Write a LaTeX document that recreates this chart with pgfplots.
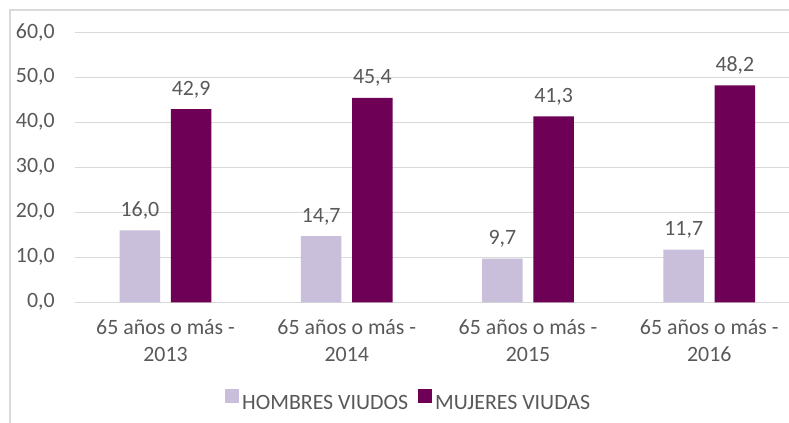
\documentclass[border=0pt]{standalone}
\usepackage{pgfplots}
\pgfplotsset{compat=1.18}
\usepackage{fontspec}
\setmainfont{Carlito}
\definecolor{lightp}{RGB}{201,191,218}
\definecolor{darkp}{RGB}{110,0,86}
\definecolor{txt}{RGB}{89,89,89}
\definecolor{gridc}{RGB}{217,217,217}
\begin{document}
\begin{tikzpicture}
\useasboundingbox (0,0) rectangle (591.75pt,316.5pt);
\clip (0,0) rectangle (591.75pt,316.5pt);
\fill[white] (0,0) rectangle (591.75pt,316.5pt);
\draw[gridc, line width=1pt] (7.5pt,-5pt) -- (7.5pt,309pt) -- (600pt,309pt);
\begin{axis}[
  at={(56.2pt,89.8pt)}, anchor=south west,
  scale only axis, width=543.75pt, height=202.5pt,
  xmin=-0.5, xmax=3.5, ymin=0, ymax=60,
  ytick={0,10,...,60},
  xtick={0,1,2,3},
  xticklabels={{65 años o más -\\2013},{65 años o más -\\2014},{65 años o más -\\2015},{65 años o más -\\2016}},
  axis line style={draw=none},
  major tick length=0pt,
  ymajorgrids, grid style={gridc, line width=1pt},
  font=\fontsize{16.4pt}{20.25pt}\selectfont,
  tick label style={text=txt},
  /pgf/number format/fixed,
  /pgf/number format/fixed zerofill,
  /pgf/number format/precision=1,
  /pgf/number format/use comma,
  /pgf/number format/assume math mode=true,
  yticklabel style={anchor=east, inner sep=0pt, xshift=-15pt},
  xticklabel style={align=center, anchor=north, inner sep=0pt, yshift=-13pt},
  ybar, bar width=30.4pt,
  nodes near coords,
  every node near coord/.append style={text=txt, anchor=base, inner sep=0pt, yshift=10.5pt},
  legend columns=2,
  legend style={at={(0.459,-0.362)}, anchor=center, draw=none, fill=none, text=txt, inner sep=0pt,
    /tikz/every even column/.append style={column sep=7.5pt},
    /tikz/every odd column/.append style={column sep=2.2pt},
    nodes={inner sep=0pt, text=txt}},
  legend cell align=left,
]
\addplot[fill=lightp, draw=none, bar shift=-19.2pt,
  legend image code/.code={\fill[lightp] (0pt,0pt) rectangle (10.5pt,10.5pt);}]
  coordinates {(0,16.0) (1,14.7) (2,9.7) (3,11.7)};
\addplot[fill=darkp, draw=none, bar shift=19.2pt,
  legend image code/.code={\fill[darkp] (0pt,0pt) rectangle (10.5pt,10.5pt);}]
  coordinates {(0,42.9) (1,45.4) (2,41.3) (3,48.2)};
\legend{HOMBRES VIUDOS, MUJERES VIUDAS}
\end{axis}
\end{tikzpicture}
\end{document}
